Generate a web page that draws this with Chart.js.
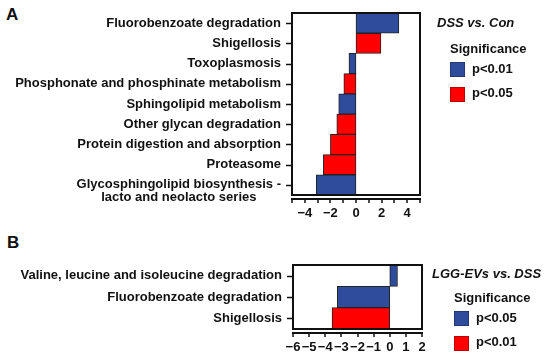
<!DOCTYPE html>
<html>
<head>
<meta charset="utf-8">
<script src="https://cdn.jsdelivr.net/npm/chart.js@4/dist/chart.umd.min.js"></script>
<style>
  html, body { margin: 0; padding: 0; background: #fff; }
  body { width: 550px; height: 361px; position: relative; overflow: hidden;
         font-family: "Liberation Sans", Arial, sans-serif; color: #111; }
  canvas { position: absolute; left: 0; }
  .txt { position: absolute; line-height: 1; font-weight: bold; font-size: 13px; white-space: nowrap; }
  .letter { font-size: 17px; }
  .sw { position: absolute; width: 15px; height: 15px; box-sizing: border-box; border: 1px solid rgba(0,0,0,0.25); }
</style>
</head>
<body>
<div class="txt letter" style="left:6px;top:6px">A</div>
<div class="txt letter" style="left:7px;top:234px">B</div>
<canvas id="chartA" width="440" height="228" style="top:0"></canvas>
<canvas id="chartB" width="440" height="131" style="top:230px"></canvas>
<div id="legA"></div>
<div id="legB"></div>
<script>
//Panel A data (DSS vs. Con)
const pathwaysA = [
    'Fluorobenzoate degradation',
    'Shigellosis',
    'Toxoplasmosis',
    'Phosphonate and phosphinate metabolism',
    'Sphingolipid metabolism',
    'Other glycan degradation',
    'Protein digestion and absorption',
    'Proteasome',
    ['Glycosphingolipid biosynthesis -', 'lacto and neolacto series']
];
const valuesA = [3.35, 1.95, -0.55, -0.95, -1.35, -1.5, -2.0, -2.55, -3.1];
const groupA = [0, 1, 0, 1, 0, 1, 1, 1, 0];
const legendA = ['p<0.01', 'p<0.05'];
const titleA = 'DSS vs. Con';
const ticksA = [-4, -2, 0, 2, 4];

//Panel B data (LGG-EVs vs. DSS)
const pathwaysB = [
    'Valine, leucine and isoleucine degradation',
    'Fluorobenzoate degradation',
    'Shigellosis'
];
const valuesB = [0.48, -3.25, -3.58];
const groupB = [0, 0, 1];
const legendB = ['p<0.05', 'p<0.01'];
const titleB = 'LGG-EVs vs. DSS';
const ticksB = [-6, -5, -4, -3, -2, -1, 0, 1, 2];

const colours = ['#2f4b9c', '#ff0000'];
const font = '"Liberation Sans", Arial, sans-serif';

Chart.defaults.font.family = font;
Chart.defaults.color = '#111';

function fmt(v) {
    return v < 0 ? '\u2212' + Math.abs(v) : String(v);
}

//Draws the box, the detached x axis and the category labels
const framePlugin = {
    id: 'frame',
    afterDatasetsDraw(chart, args, opts) {
        const ctx = chart.ctx;
        const a = chart.chartArea;
        const x = chart.scales.x;
        const y = chart.scales.y;
        ctx.save();
        ctx.strokeStyle = '#111';
        ctx.lineWidth = 2;
        ctx.strokeRect(a.left, a.top, a.right - a.left, a.bottom - a.top);

        //x axis below the box
        const ay = a.bottom + opts.gap;
        ctx.beginPath();
        ctx.moveTo(a.left - 1, ay);
        ctx.lineTo(a.right + 1, ay);
        ctx.stroke();
        ctx.lineWidth = 1.5;
        ctx.beginPath();
        for (const t of x.ticks) {
            const px = Math.round(x.getPixelForValue(t.value));
            ctx.moveTo(px, ay);
            ctx.lineTo(px, ay + 4);
        }
        //y tick marks
        for (let i = 0; i < chart.data.labels.length; i++) {
            const py = Math.round(y.getPixelForTick(i)) + 0.5;
            ctx.moveTo(a.left - 6, py);
            ctx.lineTo(a.left, py);
        }
        ctx.stroke();

        //category labels
        ctx.font = 'bold 13px ' + font;
        ctx.fillStyle = '#111';
        ctx.textBaseline = 'middle';
        chart.data.labels.forEach((lab, i) => {
            const lines = [].concat(lab);
            const py = y.getPixelForTick(i);
            const xr = a.left - 11;
            ctx.textAlign = 'right';
            ctx.fillText(lines[0], xr, py);
            const w0 = ctx.measureText(lines[0]).width;
            ctx.textAlign = 'center';
            for (let k = 1; k < lines.length; k++) {
                ctx.fillText(lines[k], xr - w0 / 2, py + k * 12.5);
            }
        });
        ctx.restore();
    }
};

function makeChart(id, labels, values, groups, tickVals, cfg) {
    return new Chart(document.getElementById(id), {
        type: 'bar',
        data: {
            labels: labels,
            datasets: [{
                data: values,
                backgroundColor: groups.map(g => colours[g]),
                borderColor: '#222',
                borderWidth: 1,
                borderSkipped: false,
                barPercentage: 1,
                categoryPercentage: 1
            }]
        },
        options: {
            indexAxis: 'y',
            responsive: false,
            animation: false,
            layout: { padding: { left: 0, right: cfg.right, top: cfg.top, bottom: 0 } },
            scales: {
                x: {
                    type: 'linear',
                    min: cfg.min,
                    max: cfg.max,
                    grid: { display: false, drawTicks: false },
                    border: { display: false },
                    ticks: {
                        stepSize: 1,
                        autoSkip: false,
                        maxRotation: 0,
                        padding: 11,
                        font: { size: 13, weight: 'bold' },
                        color: '#111',
                        callback: v => (tickVals.includes(v) ? fmt(v) : '')
                    },
                    afterFit: s => { s.height = cfg.xh; }
                },
                y: {
                    grid: { display: false, drawTicks: false },
                    border: { display: false },
                    ticks: { display: false },
                    afterFit: s => { s.width = cfg.left; }
                }
            },
            plugins: {
                legend: { display: false },
                tooltip: { enabled: false },
                frame: { gap: 4 }
            }
        },
        plugins: [framePlugin]
    });
}

makeChart('chartA', pathwaysA, valuesA, groupA, ticksA,
    { min: -5, max: 5, left: 292, right: 20, top: 13, xh: 33 });
makeChart('chartB', pathwaysB, valuesB, groupB, ticksB,
    { min: -6, max: 2, left: 293, right: 18, top: 35, xh: 32 });

//Legends
function makeLegend(id, title, items, pos) {
    let html = '<div class="txt" style="font-style:italic;left:' + pos.tx + 'px;top:' + pos.ty + 'px">' + title + '</div>';
    html += '<div class="txt" style="left:' + pos.sx + 'px;top:' + pos.sy + 'px">Significance</div>';
    items.forEach((lab, i) => {
        const top = pos.iy + i * pos.step;
        html += '<div class="sw" style="background:' + colours[i] + ';left:' + pos.sx + 'px;top:' + top + 'px"></div>';
        html += '<div class="txt" style="left:' + (pos.sx + 22) + 'px;top:' + (top - 0.5) + 'px">' + lab.replace('<', '&lt;') + '</div>';
    });
    document.getElementById(id).innerHTML = html;
}

makeLegend('legA', titleA, legendA, { tx: 437, ty: 15.5, sx: 450, sy: 42.3, iy: 62, step: 24.5 });
makeLegend('legB', titleB, legendB, { tx: 432, ty: 266.7, sx: 454, sy: 290.7, iy: 311, step: 24.5 });
</script>
</body>
</html>
